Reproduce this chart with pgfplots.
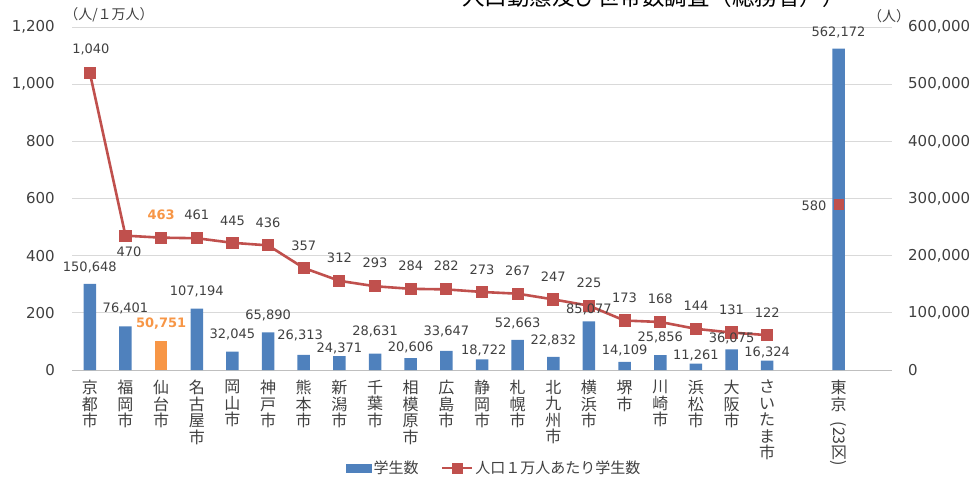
\documentclass[border=0pt]{standalone}
\usepackage{fontspec}
\setmainfont{DejaVu Sans}
\newfontfamily\cjk{Noto Sans CJK JP}
\usepackage{graphicx}
\usepackage{pgfplots}
\pgfplotsset{compat=1.18}
\definecolor{barblue}{HTML}{4F81BD}
\definecolor{barorange}{HTML}{F79646}
\definecolor{linered}{HTML}{C0504D}
\definecolor{gridgray}{HTML}{D9D9D9}
\definecolor{axisgray}{HTML}{BFBFBF}
\definecolor{ticktext}{HTML}{404040}
\definecolor{labeltext}{HTML}{404040}
\begin{document}
\begin{tikzpicture}
\path[use as bounding box] (0pt,0pt) rectangle (975pt,477pt);
% ---------- bars (right axis) ----------
\begin{axis}[
  scale only axis, width=820pt, height=343pt,
  at={(72pt,107pt)}, anchor=south west,
  xmin=-0.5, xmax=22.5, ymin=0, ymax=600000,
  axis y line*=right, axis x line*=bottom,
  x axis line style={draw=axisgray, line width=0.9pt, -},
  y axis line style={draw=none},
  major tick length=0pt,
  ytick={0,100000,200000,300000,400000,500000,600000},
  scaled y ticks=false,
  /pgf/number format/fixed,
  /pgf/number format/1000 sep={,},
  /pgf/number format/assume math mode=true,
  yticklabel style={font=\fontsize{15}{18}\selectfont, text=ticktext, inner sep=0pt, xshift=16pt},
  ymajorgrids, grid style={draw=gridgray, line width=0.9pt},
  xtick={0,1,2,3,4,5,6,7,8,9,10,11,12,13,14,15,16,17,18,19,21},
  xticklabels={{京\\都\\市},{福\\岡\\市},{仙\\台\\市},{名\\古\\屋\\市},{岡\\山\\市},{神\\戸\\市},{熊\\本\\市},{新\\潟\\市},{千\\葉\\市},{相\\模\\原\\市},{広\\島\\市},{静\\岡\\市},{札\\幌\\市},{北\\九\\州\\市},{横\\浜\\市},{堺\\市},{川\\崎\\市},{浜\\松\\市},{大\\阪\\市},{さ\\い\\た\\ま\\市},{東\\京\\[-5pt]\rotatebox{-90}{(23区)}}},
  xticklabel style={align=center, font=\cjk\fontsize{16}{16.5}\selectfont, text=ticktext, anchor=north, inner sep=0pt, yshift=-10pt},
]
\addplot[ybar, bar width=12.5pt, bar shift=0pt, fill=barblue, draw=none] coordinates {
(0,150648) (1,76401) (3,107194) (4,32045) (5,65890) (6,26313) (7,24371) (8,28631) (9,20606) (10,33647)
(11,18722) (12,52663) (13,22832) (14,85077) (15,14109) (16,25856) (17,11261) (18,36075) (19,16324) (21,562172)
};
\addplot[ybar, bar width=12.5pt, bar shift=0pt, fill=barorange, draw=none] coordinates {(2,50751)};
\end{axis}
% ---------- line (left axis) ----------
\begin{axis}[
  scale only axis, width=820pt, height=343pt,
  at={(72pt,107pt)}, anchor=south west,
  xmin=-0.5, xmax=22.5, ymin=0, ymax=1200,
  clip=false,
  axis y line*=left, hide x axis,
  y axis line style={draw=none},
  major tick length=0pt,
  ytick={0,200,400,600,800,1000,1200},
  scaled y ticks=false,
  /pgf/number format/fixed,
  /pgf/number format/1000 sep={,},
  /pgf/number format/assume math mode=true,
  yticklabel style={font=\fontsize{15}{18}\selectfont, text=ticktext, inner sep=0pt, xshift=-17pt},
  legend style={at={(0.515,-0.286)}, anchor=center, draw=none, fill=none,
    legend columns=2, font=\cjk\fontsize{15}{17}\selectfont, text=ticktext,
    /tikz/every even column/.append style={column sep=20pt}, inner sep=0pt},
  legend cell align=left,
]
\addlegendimage{legend image code/.code={\fill[barblue] (0pt,-4pt) rectangle (25pt,4pt);}}
\addlegendentry{学生数}
\addlegendimage{legend image code/.code={\draw[linered,line width=2.6pt] (0pt,0pt)--(30pt,0pt); \fill[linered] (10.2pt,-4.8pt) rectangle (19.8pt,4.8pt);}}
\addlegendentry{人口１万人あたり学生数}
\addplot[forget plot, color=linered, line width=2.6pt, mark=square*, mark size=4.8pt, mark options={solid, fill=linered, draw=none}] coordinates {
(0,1040) (1,470) (2,463) (3,461) (4,445) (5,436) (6,357) (7,312) (8,293) (9,284)
(10,282) (11,273) (12,267) (13,247) (14,225) (15,173) (16,168) (17,144) (18,131) (19,122)
};
\addplot[forget plot, only marks, color=linered, mark=square*, mark size=4.8pt, mark options={fill=linered, draw=none}] coordinates {(21,580)};
% bar value labels (positions on left scale)
\addplot[forget plot, only marks, mark=none, nodes near coords, point meta=explicit symbolic,
  nodes near coords style={anchor=center, font=\fontsize{13}{15}\selectfont, text=labeltext, inner sep=0pt}]
  table[meta=label] {
x y label
0 360 150,648
1 217 76,401
3 276 107,194
4 126 32,045
5 192 65,890
5.9 122 26,313
7 77 24,371
8 136 28,631
9 80 20,606
10 136 33,647
11.05 70 18,722
12 164 52,663
13 105 22,832
14 213 85,077
15 70 14,109
16 115 25,856
17 52 11,261
18 112 36,075
19 63 16,324
21 1182 562,172
};
% line value labels
\addplot[forget plot, only marks, mark=none, nodes near coords, point meta=explicit symbolic,
  nodes near coords style={anchor=center, font=\fontsize{13}{15}\selectfont, text=labeltext, inner sep=0pt}]
  table[meta=label] {
x y label
0.03 1120 1,040
1.1 413 470
3 542 461
4 521 445
5 514 436
6 434 357
7 392 312
8 374 293
9 364 284
10 364 282
11 350 273
12 346 267
13 325 247
14 304 225
15 252 173
16 248 168
17 224 144
18 210 131
19 199 122
20.31 574 580
};
% highlighted (Sendai) labels
\addplot[forget plot, only marks, mark=none, nodes near coords, point meta=explicit symbolic,
  nodes near coords style={anchor=center, font=\fontsize{13}{15}\selectfont\bfseries, text=barorange, inner sep=0pt}]
  table[meta=label] {
x y label
2 542 463
2 161 50,751
};
\end{axis}
% axis unit labels and cropped title
\node[font=\cjk\fontsize{14}{16}\selectfont, text=ticktext] at (109pt,462pt) {（人/１万人）};
\node[font=\cjk\fontsize{14}{16}\selectfont, text=ticktext] at (889pt,461pt) {（人）};
\node[overlay, anchor=base west, inner sep=0pt, font=\cjk\fontsize{22.5}{24}\selectfont, text=black] at (462pt,471pt) {人口動態及び世帯数調査（総務省））};
\end{tikzpicture}
\end{document}
